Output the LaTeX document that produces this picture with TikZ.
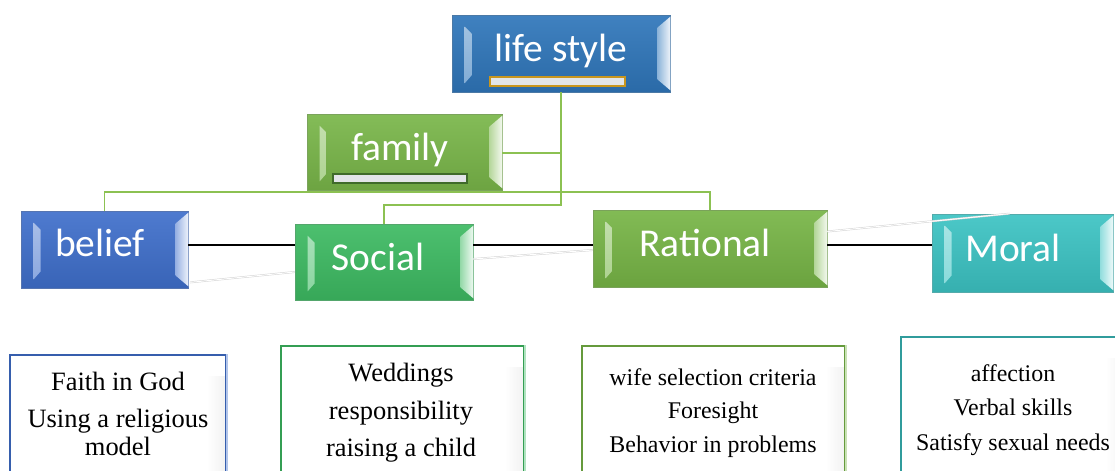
\documentclass[tikz,border=0pt]{standalone}
\usepackage{fontspec}
\setmainfont{Liberation Serif}
\newfontfamily\titlefont{Carlito}
\usetikzlibrary{calc}
\definecolor{lifeblue}{HTML}{2F76BA}
\definecolor{famgreen}{HTML}{79B649}
\definecolor{beliefblue}{HTML}{3F6FCB}
\definecolor{socialgreen}{HTML}{3DBA62}
\definecolor{ratgreen}{HTML}{77B546}
\definecolor{moralteal}{HTML}{3CC3C3}
\definecolor{linegreen}{HTML}{8CC152}
\definecolor{bargold}{HTML}{C8961E}
\definecolor{bardark}{HTML}{3F6B2A}
\definecolor{barfill}{HTML}{E2E5E8}
\newcommand\bevbox[9]{%
  \node[inner sep=0pt, minimum width={(#4-#2)*0.03cm}, minimum height={(#5-#3)*0.03cm},
        top color=#6!92!white, bottom color=#6!90!black, draw=#6!65!gray, line width=0.6pt] (#1) at ({(#2+#4)/2},{(#3+#5)/2}) {};
  \shade[top color=#6!45!white, bottom color=#6!60!white] ($(#1.north west)+(13,12)$) -- ($(#1.north west)+(20,19)$)
        -- ($(#1.south west)+(20,-17)$) -- ($(#1.south west)+(13,-9)$) -- cycle;
  \shade[left color=#6!55!white, right color=#6!8!white] ($(#1.north east)+(0,2)$)
        -- ($(#1.north east)+(-13,13)$) -- ($(#1.south east)+(-13,-13)$)
        -- ($(#1.south east)+(0,-2)$) -- cycle;
  \node[titletext] (#1-t) at (#8,#9) {#7};
}
\newcommand\infobox[7]{%
  \node[inner sep=0pt, minimum width={(#4-#2)*0.03cm}, minimum height={(#5-#3)*0.03cm},
        fill=white, draw=#6, line width=1.3pt] (#1) at ({(#2+#4)/2},{(#3+#5)/2}) {};
  \shade[left color=white, right color=gray!10] ($(#1.north east)+(-20,22)$) rectangle ($(#1.south east)+(-2,0)$);
  \draw[#7, line width=1.3pt] (#1.north east) -- (#1.south east);
}
\tikzset{
  titletext/.style={text=white, inner sep=0pt, font=\titlefont\fontsize{33.7}{40}\selectfont},
  gl/.style={draw=linegreen, line width=1.5pt},
  bl/.style={draw=black, line width=1.5pt},
  faint/.style={draw=gray!35, double=white, double distance=0.8pt, line width=0.4pt},
  desc/.style={align=center, inner sep=0pt, text=black}
}
\begin{document}
\begin{tikzpicture}[x=0.03cm,y=-0.03cm]
\useasboundingbox (0,0) rectangle (1115,470);
\clip (0,0) rectangle (1115,470);
\fill[white] (0,0) rectangle (1115,470);

% helper coordinates
\coordinate (j1) at (561,205);
\coordinate (hb) at (0,192);
\coordinate (hl) at (0,245);

\bevbox{life}{452}{15}{670}{92}{lifeblue}{life style}{561}{51}
\bevbox{family}{307}{114}{502}{190}{famgreen}{family}{400}{150}
\bevbox{belief}{21}{211}{188}{288}{beliefblue}{belief}{100}{243}
\bevbox{social}{295}{224}{473}{300}{socialgreen}{Social}{378}{257}
\bevbox{rational}{593}{210}{827}{287}{ratgreen}{Rational}{705}{243}
\bevbox{moral}{932}{214}{1113}{292}{moralteal}{Moral}{1013}{248}

% bars
\draw[draw=bargold, fill=barfill, line width=1.2pt] (490,77) rectangle (625,86);
\draw[draw=bardark, fill=barfill, line width=1.2pt] (333,174) rectangle (467,183);

% connectors
\draw[gl] (life.south) -- (j1) -| (social.north);
\draw[gl] (family.east |- 0,153) -- (life.south |- 0,153);
\draw[gl] (belief.north) -- (belief.north |- hb) -- (rational.north |- hb) -- (rational.north);
\draw[bl] (belief.east |- hl) -- (social.west |- hl);
\draw[bl] (social.east |- hl) -- (rational.west |- hl);
\draw[bl] (rational.east |- hl) -- (moral.west |- hl);
\draw[faint] ($(belief.south east)+(2,-6)$) -- ($(social.west)+(0,10)$);
\draw[faint] ($(social.east)+(0,-3)$) -- ($(rational.west)+(0,1.5)$);
\draw[faint] ($(rational.east)+(0,-17)$) -- ($(moral.north)+(-13,0)$);

% description boxes
\infobox{beliefd}{10}{355}{226}{520}{beliefblue!85!black}{beliefblue!40!white}
\infobox{sociald}{281}{346}{524}{520}{socialgreen!85!black}{socialgreen!40!white}
\infobox{rationald}{582}{346}{845}{520}{ratgreen!85!black}{ratgreen!40!white}
\infobox{morald}{901}{337}{1125}{520}{moralteal!80!black}{moralteal!40!white}

\node[desc, font=\fontsize{22.6}{24}\selectfont] (beliefd-t) at (118,414) {Faith in God\\[7pt]Using a religious\\model};
\node[desc, font=\fontsize{22.6}{32}\selectfont] (sociald-t) at (401,413) {Weddings\\responsibility\\raising a child};
\node[desc, font=\fontsize{20.4}{28.6}\selectfont] (rationald-t) at (713,413) {wife selection criteria\\Foresight\\Behavior in problems};
\node[desc, font=\fontsize{20.4}{29.5}\selectfont] (morald-t) at (1013,410) {affection\\Verbal skills\\Satisfy sexual needs};
\end{tikzpicture}
\end{document}
